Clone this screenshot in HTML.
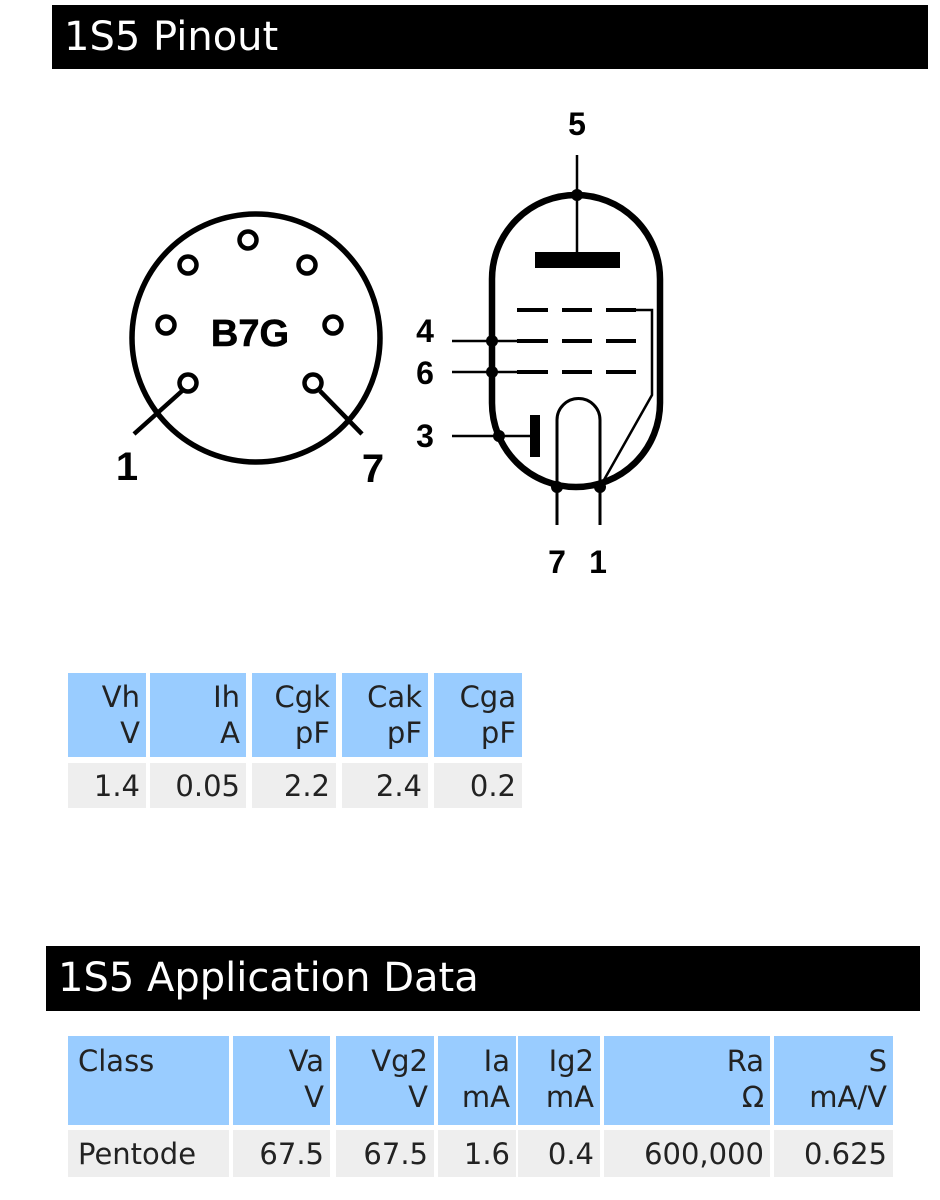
<!DOCTYPE html>
<html><head><meta charset="utf-8"><style>
body{margin:0;width:940px;height:1200px;background:#fff;position:relative;overflow:hidden;font-family:"DejaVu Sans","Liberation Sans",sans-serif}
.h{position:absolute;background:#000;color:#fff;font-size:40px;line-height:64px;padding-left:12px;box-sizing:border-box}
.c{position:absolute;box-sizing:border-box;font-size:29px;color:#222;text-align:right;padding-right:6px;line-height:36px}
.b{background:#99ccff}.g{background:#eee}
</style></head><body>
<div class="h" style="left:52px;top:5px;width:876px;height:64px">1S5 Pinout</div>
<div class="h" style="left:46px;top:946px;width:874px;height:65px">1S5 Application Data</div>
<svg style="position:absolute;left:0;top:0" width="940" height="940">
<g fill="none" stroke="#000">
<circle cx="256" cy="338" r="124" stroke-width="5.5"/>
<g stroke-width="4.5">
<circle cx="248" cy="240" r="8.5"/><circle cx="188" cy="265" r="8.5"/><circle cx="307" cy="265" r="8.5"/>
<circle cx="166" cy="325" r="8.5"/><circle cx="333" cy="325" r="8.5"/><circle cx="188" cy="383" r="8.5"/><circle cx="313" cy="383" r="8.5"/>
<line x1="182" y1="391" x2="134" y2="434"/><line x1="320" y1="391" x2="362" y2="434"/>
</g>
<path d="M492 279 A84 84 0 0 1 660 279 L660 403 A84 84 0 0 1 492 403 Z" stroke-width="6.5"/>
<g stroke-width="2.5">
<line x1="577" y1="155" x2="577" y2="254"/>
<line x1="452" y1="341" x2="517" y2="341"/><line x1="452" y1="372" x2="517" y2="372"/>
<line x1="452" y1="436" x2="533" y2="436"/>
<polyline points="636,310 652,310 652,395 600,487"/>
<path d="M557 525 L557 420 A21.5 21.5 0 0 1 600 420 L600 525" stroke-width="3"/>
</g>
</g>
<rect x="535" y="252" width="85" height="16" fill="#000"/>
<g fill="#000">
<rect x="517" y="308" width="31" height="4"/><rect x="562" y="308" width="30" height="4"/><rect x="606" y="308" width="30" height="4"/>
<rect x="517" y="339" width="31" height="4"/><rect x="562" y="339" width="30" height="4"/><rect x="606" y="339" width="30" height="4"/>
<rect x="517" y="370" width="31" height="4"/><rect x="562" y="370" width="30" height="4"/><rect x="606" y="370" width="30" height="4"/>
<rect x="530" y="415" width="10" height="42"/>
<circle cx="577" cy="195" r="6"/><circle cx="492" cy="341" r="6"/><circle cx="492" cy="372" r="6"/><circle cx="499" cy="436" r="6"/>
<circle cx="557" cy="487" r="6"/><circle cx="600" cy="487" r="6"/>
</g>
<g font-family="Liberation Sans,sans-serif" font-weight="bold" fill="#000">
<text x="250" y="346" font-size="38" text-anchor="middle" stroke="#000" stroke-width="0.6">B7G</text>
<text x="127" y="480" font-size="40" text-anchor="middle">1</text>
<text x="373" y="482" font-size="40" text-anchor="middle">7</text>
<text x="577" y="135" font-size="32" text-anchor="middle">5</text>
<text x="425" y="342" font-size="32" text-anchor="middle">4</text>
<text x="425" y="384" font-size="32" text-anchor="middle">6</text>
<text x="425" y="447" font-size="32" text-anchor="middle">3</text>
<text x="557" y="573" font-size="32" text-anchor="middle">7</text>
<text x="598" y="573" font-size="32" text-anchor="middle">1</text>
</g>
</svg>
<div class="c b" style="left:68px;top:673px;width:78px;height:84px;padding-top:6px">Vh<br>V</div>
<div class="c b" style="left:150px;top:673px;width:96px;height:84px;padding-top:6px">Ih<br>A</div>
<div class="c b" style="left:252px;top:673px;width:84px;height:84px;padding-top:6px">Cgk<br>pF</div>
<div class="c b" style="left:342px;top:673px;width:86px;height:84px;padding-top:6px">Cak<br>pF</div>
<div class="c b" style="left:434px;top:673px;width:88px;height:84px;padding-top:6px">Cga<br>pF</div>
<div class="c g" style="left:68px;top:763px;width:78px;height:45px;padding-top:5px">1.4</div>
<div class="c g" style="left:150px;top:763px;width:96px;height:45px;padding-top:5px">0.05</div>
<div class="c g" style="left:252px;top:763px;width:84px;height:45px;padding-top:5px">2.2</div>
<div class="c g" style="left:342px;top:763px;width:86px;height:45px;padding-top:5px">2.4</div>
<div class="c g" style="left:434px;top:763px;width:88px;height:45px;padding-top:5px">0.2</div>

<div class="c b" style="left:68px;top:1036px;width:161px;height:89px;padding-top:7px;text-align:left;padding-left:10px">Class</div>
<div class="c b" style="left:233px;top:1036px;width:97px;height:89px;padding-top:7px">Va<br>V</div>
<div class="c b" style="left:336px;top:1036px;width:98px;height:89px;padding-top:7px">Vg2<br>V</div>
<div class="c b" style="left:438px;top:1036px;width:78px;height:89px;padding-top:7px">Ia<br>mA</div>
<div class="c b" style="left:518px;top:1036px;width:82px;height:89px;padding-top:7px">Ig2<br>mA</div>
<div class="c b" style="left:604px;top:1036px;width:166px;height:89px;padding-top:7px">Ra<br>Ω</div>
<div class="c b" style="left:774px;top:1036px;width:119px;height:89px;padding-top:7px">S<br>mA/V</div>
<div class="c g" style="left:68px;top:1130px;width:161px;height:47px;padding-top:6px;text-align:left;padding-left:10px">Pentode</div>
<div class="c g" style="left:233px;top:1130px;width:97px;height:47px;padding-top:6px">67.5</div>
<div class="c g" style="left:336px;top:1130px;width:98px;height:47px;padding-top:6px">67.5</div>
<div class="c g" style="left:438px;top:1130px;width:78px;height:47px;padding-top:6px">1.6</div>
<div class="c g" style="left:518px;top:1130px;width:82px;height:47px;padding-top:6px">0.4</div>
<div class="c g" style="left:604px;top:1130px;width:166px;height:47px;padding-top:6px">600,000</div>
<div class="c g" style="left:774px;top:1130px;width:119px;height:47px;padding-top:6px">0.625</div>
</body></html>
